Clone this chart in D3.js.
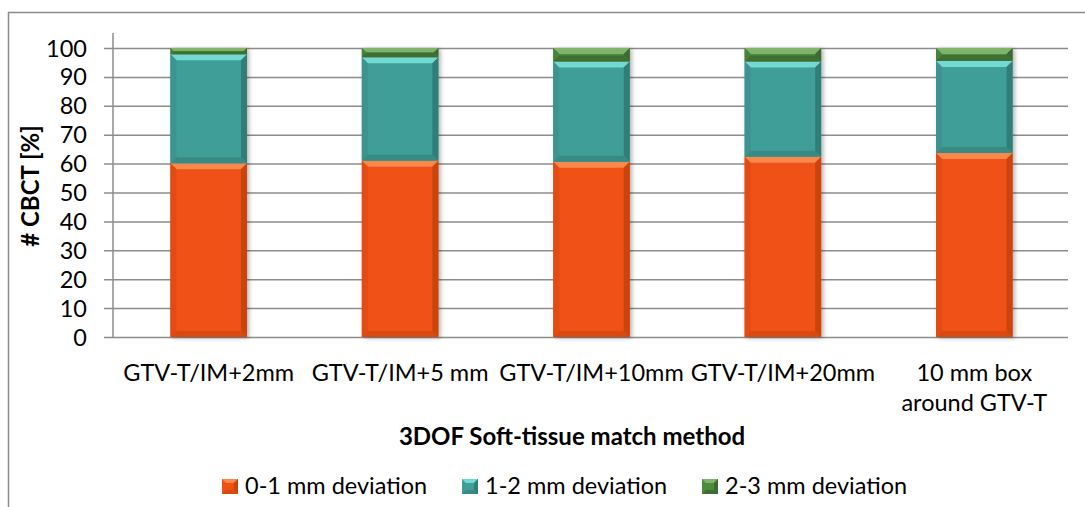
<!DOCTYPE html>
<meta charset="utf-8">
<style>

body {
  margin: 0;
  background: #fff;
}

text {
  font-family: Lato, "Open Sans", sans-serif;
  font-size: 23.5px;
  fill: #000;
}

.title {
  font-weight: bold;
  font-size: 24px;
}

</style>
<body>
<script src="https://cdn.jsdelivr.net/npm/d3@7"></script>
<script>

// categories on the x axis ("\n" = where the label wraps)
var categories = ["GTV-T/IM+2mm", "GTV-T/IM+5 mm", "GTV-T/IM+10mm", "GTV-T/IM+20mm", "10 mm box\naround GTV-T"];

// share of CBCTs per deviation class, in percent
var dev01 = [60.1, 61.0, 60.6, 62.4, 63.7];
var dev12 = [37.7, 35.8, 34.7, 32.9, 31.8];
var dev23 = [2.2, 3.2, 4.7, 4.7, 4.5];

var seriesNames = ["0-1 mm deviation", "1-2 mm deviation", "2-3 mm deviation"];
var yTicks = [0, 10, 20, 30, 40, 50, 60, 70, 80, 90, 100];

// base, top highlight, left, right, bottom
var palette = [
  ["#ef5113", "#f9884d", "#e34c12", "#c9440f", "#da4a10"],
  ["#409e98", "#72d9d3", "#3c948e", "#317d78", "#398a84"],
  ["#4e8b3d", "#80b46a", "#4a823a", "#3c6b30", "#3e6f32"]
];

var width = 1085,
    height = 507;

var svg = d3.select("body").append("svg")
    .attr("width", width)
    .attr("height", height);

var defs = svg.append("defs");
defs.append("filter")
    .attr("id", "shadow")
    .attr("x", "-20%").attr("y", "-5%")
    .attr("width", "150%").attr("height", "115%")
  .append("feDropShadow")
    .attr("dx", 2).attr("dy", 1)
    .attr("stdDeviation", 2)
    .attr("flood-color", "#000")
    .attr("flood-opacity", 0.3);

// chart frame, cut off on the right and at the bottom
svg.append("rect")
    .attr("x", 8.5).attr("y", 12.5)
    .attr("width", 1200).attr("height", 600)
    .attr("fill", "none")
    .attr("stroke", "#8c8c8c")
    .attr("stroke-width", 1.5);

var x = d3.scaleBand()
    .domain(categories)
    .range([113, 1070])
    .paddingInner(0.6)
    .paddingOuter(0.3);

var y = d3.scaleLinear()
    .domain([0, 100])
    .range([337, 48]);

// gridlines with the outside tick marks
svg.append("g")
    .attr("transform", "translate(1068,0)")
    .call(d3.axisLeft(y).tickValues(yTicks).tickSize(1068 - 104).tickFormat(""))
    .call(function(g) {
      g.select(".domain").remove();
      g.selectAll("line").attr("stroke", "#8c8c8c").attr("stroke-width", 1.5);
    });

// y axis line
svg.append("line")
    .attr("x1", 113).attr("x2", 113)
    .attr("y1", 33).attr("y2", y(0))
    .attr("stroke", "#8c8c8c")
    .attr("stroke-width", 1.5);

// tick labels
svg.append("g").selectAll("text")
    .data(yTicks)
  .enter().append("text")
    .attr("x", 87)
    .attr("y", function(d) { return y(d) + 8.5; })
    .attr("text-anchor", "end")
    .text(function(d) { return d; });

// stack the three series
var rows = categories.map(function(c, i) {
  return { cat: c, s0: dev01[i], s1: dev12[i], s2: dev23[i] };
});
var stacked = d3.stack().keys(["s0", "s1", "s2"])(rows);

var bars = svg.append("g").selectAll("g")
    .data(categories)
  .enter().append("g")
    .attr("filter", "url(#shadow)");

bars.each(function(cat, i) {
  var g = d3.select(this);
  stacked.forEach(function(layer, k) {
    var seg = layer[i],
        x0 = x(cat),
        w = x.bandwidth(),
        top = y(seg[1]),
        h = y(seg[0]) - y(seg[1]),
        b = Math.min(6, h / 2),
        c = palette[k];
    g.append("rect")
        .attr("x", x0).attr("y", top)
        .attr("width", w).attr("height", h)
        .attr("fill", c[0]);
    var faces = [
      [[x0, top], [x0 + w, top], [x0 + w - b, top + b], [x0 + b, top + b]],
      [[x0, top], [x0 + b, top + b], [x0 + b, top + h - b], [x0, top + h]],
      [[x0 + w, top], [x0 + w - b, top + b], [x0 + w - b, top + h - b], [x0 + w, top + h]],
      [[x0, top + h], [x0 + b, top + h - b], [x0 + w - b, top + h - b], [x0 + w, top + h]]
    ];
    faces.forEach(function(p, j) {
      g.append("path")
          .attr("d", "M" + p.join("L") + "Z")
          .attr("fill", c[j + 1]);
    });
  });
});

// category labels
svg.append("g").selectAll("text")
    .data(categories)
  .enter().append("text")
    .attr("text-anchor", "middle")
    .attr("x", function(d) { return x(d) + x.bandwidth() / 2; })
    .attr("y", 381)
    .each(function(d) {
      var t = d3.select(this);
      d.split("\n").forEach(function(line, j) {
        t.append("tspan")
            .attr("x", x(d) + x.bandwidth() / 2)
            .attr("dy", j ? 30 : 0)
            .text(line);
      });
    });

// axis titles
svg.append("text")
    .attr("class", "title")
    .attr("x", 572)
    .attr("y", 445)
    .attr("text-anchor", "middle")
    .text("3DOF Soft-tissue match method");

svg.append("text")
    .attr("class", "title")
    .attr("transform", "translate(39,186) rotate(-90)")
    .attr("text-anchor", "middle")
    .text("# CBCT [%]");

// legend
var legend = svg.append("g").selectAll("g")
    .data(seriesNames)
  .enter().append("g")
    .attr("transform", function(d, i) { return "translate(" + (222 + i * 240) + ",479)"; });

legend.each(function(d, i) {
  var g = d3.select(this),
      c = palette[i],
      s = 16, b = 4;
  g.append("rect").attr("width", s).attr("height", 15).attr("fill", c[0]);
  g.append("path").attr("d", "M0,0L" + s + ",0L" + (s - b) + "," + b + "L" + b + "," + b + "Z").attr("fill", c[1]);
  g.append("path").attr("d", "M" + s + ",0L" + (s - b) + "," + b + "L" + (s - b) + "," + (15 - b) + "L" + s + ",15Z").attr("fill", c[3]);
  g.append("path").attr("d", "M0,15L" + b + "," + (15 - b) + "L" + (s - b) + "," + (15 - b) + "L" + s + ",15Z").attr("fill", c[4]);
  g.append("text")
      .attr("x", 23)
      .attr("y", 15)
      .text(d);
});

</script>
